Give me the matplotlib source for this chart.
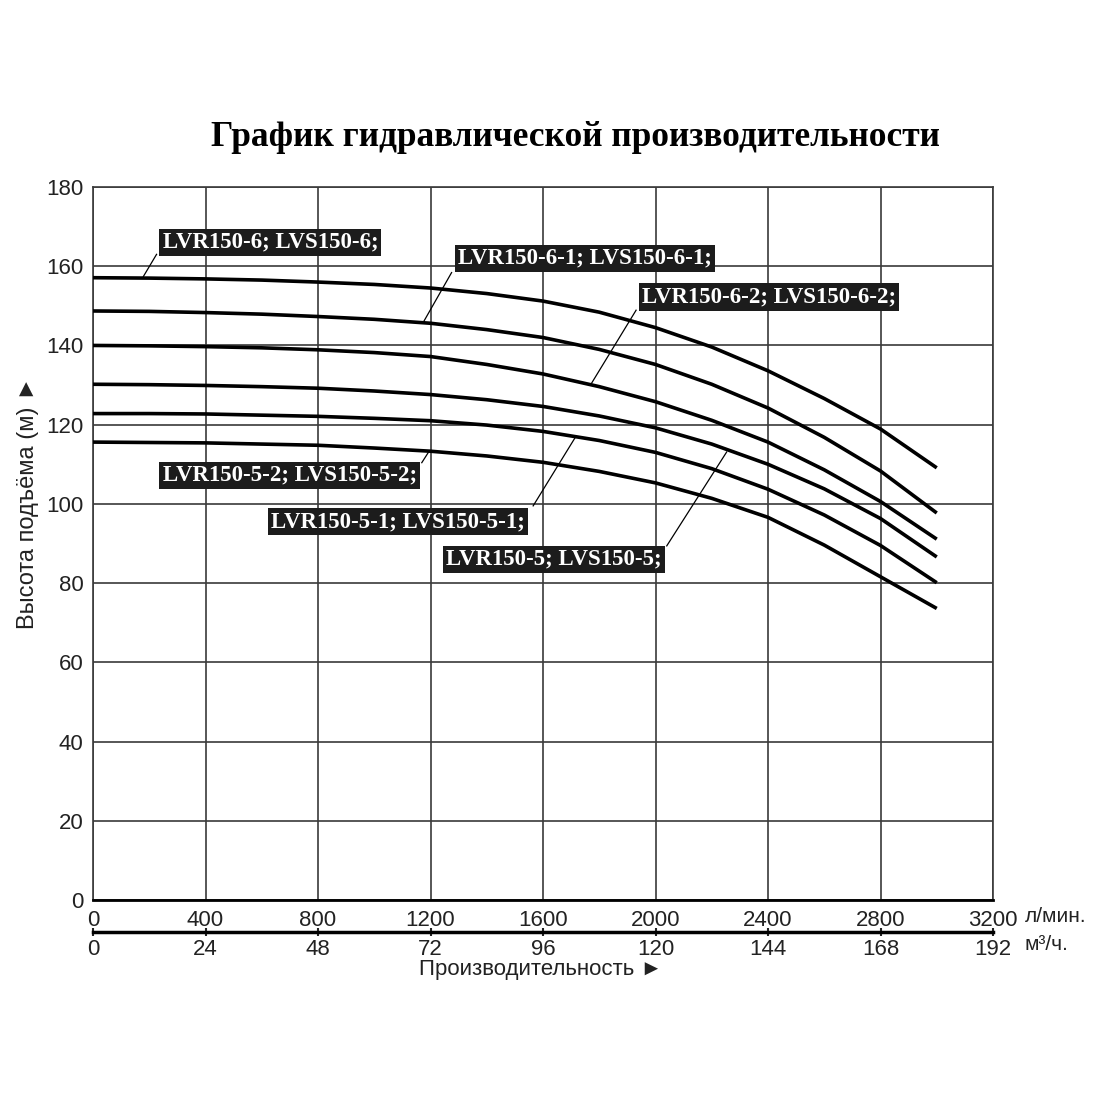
import matplotlib
matplotlib.use('Agg')
import matplotlib.pyplot as plt

plt.rcParams['font.family'] = ['Liberation Sans', 'DejaVu Sans']

# flow, l/min
flow = [0, 200, 400, 600, 800, 1000, 1200, 1400, 1600, 1800, 2000, 2200, 2400, 2600, 2800, 3000]

# head, m
head_6 = [157.1, 157.0, 156.8, 156.5, 156.0, 155.4, 154.5, 153.1, 151.2, 148.4, 144.5, 139.6, 133.6, 126.6, 118.9, 109.1]
head_6_1 = [148.7, 148.6, 148.3, 147.9, 147.3, 146.6, 145.6, 144.0, 142.0, 139.0, 135.2, 130.2, 124.2, 116.8, 108.3, 97.7]
head_6_2 = [140.0, 139.9, 139.7, 139.4, 138.9, 138.2, 137.2, 135.2, 132.8, 129.6, 125.8, 121.1, 115.6, 108.6, 100.6, 91.1]
head_5 = [130.2, 130.1, 129.9, 129.6, 129.2, 128.5, 127.6, 126.3, 124.6, 122.2, 119.2, 115.1, 110.0, 103.8, 96.3, 86.6]
head_5_1 = [122.8, 122.8, 122.7, 122.4, 122.1, 121.6, 121.0, 119.9, 118.3, 116.0, 113.0, 108.9, 103.7, 97.2, 89.5, 80.1]
head_5_2 = [115.6, 115.5, 115.4, 115.1, 114.8, 114.1, 113.3, 112.1, 110.5, 108.2, 105.3, 101.4, 96.6, 89.6, 81.6, 73.6]

curves = [head_6, head_6_1, head_6_2, head_5, head_5_1, head_5_2]

# label text, label centre, leader start, leader end
labels = [
    ('LVR150-6; LVS150-6;', (631, 166.0), (226, 163.0), (179, 157.4)),
    ('LVR150-6-1; LVS150-6-1;', (1749, 162.0), (1275, 158.4), (1174, 145.8)),
    ('LVR150-6-2; LVS150-6-2;', (2404, 152.2), (1931, 148.9), (1773, 130.5)),
    ('LVR150-5-2; LVS150-5-2;', (699, 107.2), (1169, 110.4), (1196, 113.4)),
    ('LVR150-5-1; LVS150-5-1;', (1084, 95.5), (1565, 99.5), (1714, 116.7)),
    ('LVR150-5; LVS150-5;', (1639, 86.0), (2040, 89.4), (2253, 113.1)),
]

x_ticks = list(range(0, 3201, 400))
m3h_ticks = list(range(0, 193, 24))
y_ticks = list(range(0, 181, 20))

fig = plt.figure(figsize=(11, 11), dpi=100)
ax = fig.add_axes([93 / 1100, 1 - 900 / 1100, 900 / 1100, 713 / 1100])

for h in curves:
    ax.plot(flow, h, color='black', lw=2.6, solid_capstyle='butt', zorder=5)

for text, (tx, ty), (sx, sy), (ex, ey) in labels:
    ax.plot([sx, ex], [sy, ey], color='black', lw=0.9, zorder=6)
    ax.text(tx, ty, text, ha='center', va='center', color='white',
            family='Liberation Serif', fontweight='bold', fontsize=16.5, zorder=7,
            bbox=dict(boxstyle='square,pad=0.14', fc='#1c1c1c', ec='none'))

ax.set_xlim(0, 3200)
ax.set_ylim(0, 180)
ax.set_xticks(x_ticks)
ax.set_yticks(y_ticks)
ax.grid(True, color='#3a3a3a', lw=1.2)
ax.tick_params(length=0, labelsize=16, pad=7, colors='#222')
for s in ['left', 'top', 'right']:
    ax.spines[s].set_color('#3a3a3a')
    ax.spines[s].set_linewidth(1.2)
ax.spines['bottom'].set_linewidth(2)

sec = ax.secondary_xaxis(-0.045, functions=(lambda q: q * 0.06, lambda m: m / 0.06))
sec.set_xticks(m3h_ticks)
sec.spines['bottom'].set_linewidth(2.5)
sec.tick_params(direction='inout', length=6, width=1.5, labelsize=16, pad=2, colors='#222')

fig.text(1025 / 1100, 1 - 917 / 1100, 'л/мин.', fontsize=15, ha='left', va='center', color='#222')
fig.text(1025 / 1100, 1 - 945 / 1100, 'м³/ч.', fontsize=15, ha='left', va='center', color='#222')
fig.text(541 / 1100, 1 - 970 / 1100, 'Производительность ►', fontsize=16,
         ha='center', va='center', color='#222')
fig.text(28 / 1100, 1 - 503 / 1100, 'Высота подъёма (м) ►', fontsize=17, rotation=90,
         ha='center', va='center', color='#222')
fig.text(575 / 1100, 1 - 137 / 1100, 'График гидравлической производительности',
         family='Liberation Serif', fontweight='bold', fontsize=25.5, ha='center', va='center')

fig.savefig('out.png', dpi=100, facecolor='white')
